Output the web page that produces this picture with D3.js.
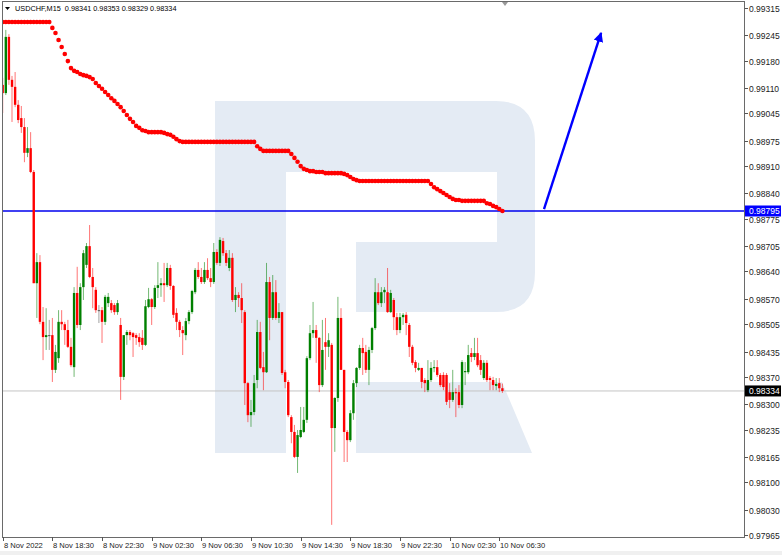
<!DOCTYPE html>
<html><head><meta charset="utf-8">
<script src="https://cdn.jsdelivr.net/npm/d3@7"></script>
<style>body{margin:0;background:#fff;overflow:hidden}svg{display:block}</style>
</head><body><svg id="c" width="782" height="555"></svg>
<script>
const symbol = "USDCHF,M15";
const lastOHLC = [0.98341, 0.98353, 0.98329, 0.98334];
const timeLabels = ["8 Nov 2022","8 Nov 18:30","8 Nov 22:30","9 Nov 02:30","9 Nov 06:30","9 Nov 10:30","9 Nov 14:30","9 Nov 18:30","9 Nov 22:30","10 Nov 02:30","10 Nov 06:30"];
const timeLabelBars = [0,16,32,48,64,80,96,112,128,144,160];
const priceTicks = [0.99315,0.99245,0.99180,0.99110,0.99045,0.98975,0.98910,0.98840,0.98775,0.98705,0.98640,0.98570,0.98505,0.98435,0.98370,0.98300,0.98235,0.98165,0.98100,0.98030,0.97965];

const open = [
0.99118,0.99097,0.99241,0.99131,0.99113,0.99067,0.99033,0.99010,0.98944,0.98956,
0.98895,0.98610,0.98664,0.98511,0.98472,0.98477,0.98477,0.98388,0.98418,0.98511,
0.98505,0.98490,0.98447,0.98395,0.98585,0.98503,0.98600,0.98657,0.98705,0.98626,
0.98593,0.98541,0.98541,0.98511,0.98559,0.98559,0.98554,0.98536,0.98503,0.98370,
0.98477,0.98485,0.98482,0.98477,0.98472,0.98470,0.98452,0.98549,0.98569,0.98549,
0.98598,0.98605,0.98610,0.98605,0.98649,0.98603,0.98534,0.98511,0.98490,0.98477,
0.98513,0.98536,0.98587,0.98644,0.98626,0.98613,0.98644,0.98623,0.98613,0.98690,
0.98662,0.98718,0.98687,0.98649,0.98675,0.98567,0.98580,0.98572,0.98536,0.98354,
0.98272,0.98280,0.98362,0.98485,0.98395,0.98382,0.98613,0.98521,0.98587,0.98521,
0.98536,0.98382,0.98357,0.98267,0.98229,0.98165,0.98216,0.98229,0.98260,0.98418,
0.98482,0.98490,0.98470,0.98349,0.98459,0.98447,0.98452,0.98239,0.98316,0.98521,
0.98388,0.98229,0.98208,0.98277,0.98354,0.98393,0.98444,0.98434,0.98388,0.98439,
0.98495,0.98587,0.98559,0.98587,0.98587,0.98536,0.98567,0.98523,0.98490,0.98523,
0.98529,0.98503,0.98447,0.98408,0.98388,0.98393,0.98362,0.98336,0.98362,0.98393,
0.98395,0.98375,0.98375,0.98375,0.98331,0.98311,0.98331,0.98331,0.98298,0.98382,
0.98382,0.98431,0.98421,0.98431,0.98413,0.98367,0.98406,0.98367,0.98362,0.98347,
0.98354,0.98341];
const high = [
0.99136,0.99259,0.99248,0.99141,0.99151,0.99079,0.99064,0.99033,0.99010,0.98997,
0.98900,0.98687,0.98682,0.98549,0.98546,0.98516,0.98521,0.98452,0.98541,0.98541,
0.98511,0.98516,0.98470,0.98600,0.98652,0.98610,0.98695,0.98713,0.98759,0.98649,
0.98600,0.98554,0.98549,0.98580,0.98585,0.98567,0.98559,0.98567,0.98521,0.98477,
0.98490,0.98490,0.98485,0.98482,0.98482,0.98490,0.98567,0.98598,0.98572,0.98605,
0.98664,0.98623,0.98662,0.98662,0.98657,0.98605,0.98546,0.98516,0.98500,0.98521,
0.98541,0.98593,0.98649,0.98664,0.98649,0.98664,0.98674,0.98649,0.98713,0.98697,
0.98728,0.98726,0.98695,0.98695,0.98687,0.98600,0.98587,0.98610,0.98541,0.98357,
0.98311,0.98375,0.98516,0.98511,0.98434,0.98662,0.98626,0.98631,0.98618,0.98559,
0.98536,0.98388,0.98362,0.98272,0.98247,0.98234,0.98293,0.98293,0.98423,0.98503,
0.98562,0.98503,0.98472,0.98516,0.98521,0.98482,0.98457,0.98318,0.98575,0.98546,
0.98388,0.98234,0.98285,0.98362,0.98395,0.98452,0.98470,0.98452,0.98447,0.98498,
0.98623,0.98610,0.98600,0.98600,0.98649,0.98593,0.98572,0.98534,0.98534,0.98534,
0.98536,0.98508,0.98452,0.98413,0.98406,0.98393,0.98367,0.98413,0.98408,0.98413,
0.98413,0.98380,0.98382,0.98380,0.98354,0.98388,0.98341,0.98349,0.98413,0.98408,
0.98452,0.98444,0.98470,0.98470,0.98426,0.98413,0.98413,0.98372,0.98370,0.98367,
0.98367,0.98353];
const low = [
0.99046,0.99092,0.99118,0.99023,0.99061,0.99020,0.98995,0.98920,0.98933,0.98892,
0.98610,0.98521,0.98505,0.98413,0.98439,0.98439,0.98357,0.98380,0.98406,0.98490,
0.98452,0.98444,0.98395,0.98370,0.98495,0.98490,0.98567,0.98649,0.98623,0.98546,
0.98534,0.98508,0.98457,0.98503,0.98549,0.98534,0.98529,0.98529,0.98311,0.98362,
0.98452,0.98464,0.98421,0.98452,0.98447,0.98439,0.98449,0.98546,0.98503,0.98544,
0.98572,0.98575,0.98562,0.98600,0.98593,0.98521,0.98490,0.98472,0.98426,0.98464,
0.98505,0.98531,0.98582,0.98621,0.98608,0.98608,0.98618,0.98600,0.98608,0.98657,
0.98654,0.98680,0.98654,0.98641,0.98562,0.98536,0.98549,0.98508,0.98298,0.98254,
0.98242,0.98272,0.98341,0.98390,0.98336,0.98380,0.98464,0.98516,0.98516,0.98508,
0.98375,0.98341,0.98267,0.98200,0.98162,0.98124,0.98213,0.98226,0.98252,0.98413,
0.98470,0.98406,0.98331,0.98344,0.98388,0.98421,0.97991,0.98178,0.98306,0.98388,
0.98152,0.98152,0.98203,0.98260,0.98344,0.98388,0.98375,0.98380,0.98349,0.98431,
0.98490,0.98554,0.98549,0.98559,0.98534,0.98534,0.98490,0.98477,0.98482,0.98503,
0.98477,0.98421,0.98400,0.98382,0.98385,0.98341,0.98331,0.98331,0.98357,0.98382,
0.98370,0.98344,0.98336,0.98298,0.98290,0.98306,0.98267,0.98290,0.98290,0.98349,
0.98377,0.98408,0.98413,0.98395,0.98375,0.98362,0.98357,0.98336,0.98336,0.98336,
0.98331,0.98329];
const close = [
0.99097,0.99241,0.99131,0.99113,0.99067,0.99028,0.99010,0.98944,0.98956,0.98895,
0.98610,0.98664,0.98511,0.98472,0.98477,0.98477,0.98388,0.98434,0.98511,0.98505,
0.98490,0.98447,0.98400,0.98585,0.98503,0.98600,0.98687,0.98705,0.98626,0.98600,
0.98541,0.98541,0.98511,0.98575,0.98575,0.98541,0.98536,0.98559,0.98370,0.98477,
0.98485,0.98477,0.98472,0.98470,0.98459,0.98452,0.98551,0.98569,0.98549,0.98598,
0.98605,0.98610,0.98605,0.98649,0.98603,0.98529,0.98511,0.98490,0.98482,0.98513,
0.98536,0.98590,0.98644,0.98626,0.98613,0.98644,0.98623,0.98613,0.98690,0.98662,
0.98721,0.98687,0.98662,0.98675,0.98567,0.98580,0.98572,0.98541,0.98354,0.98272,
0.98280,0.98354,0.98485,0.98393,0.98382,0.98613,0.98521,0.98587,0.98521,0.98536,
0.98380,0.98357,0.98272,0.98229,0.98165,0.98221,0.98234,0.98260,0.98418,0.98482,
0.98490,0.98470,0.98349,0.98439,0.98447,0.98464,0.98239,0.98316,0.98521,0.98388,
0.98229,0.98208,0.98277,0.98354,0.98393,0.98444,0.98431,0.98388,0.98439,0.98495,
0.98587,0.98559,0.98587,0.98593,0.98536,0.98585,0.98523,0.98490,0.98523,0.98529,
0.98508,0.98447,0.98406,0.98393,0.98393,0.98357,0.98354,0.98362,0.98393,0.98395,
0.98375,0.98349,0.98344,0.98306,0.98311,0.98331,0.98328,0.98298,0.98408,0.98385,
0.98426,0.98421,0.98431,0.98400,0.98388,0.98406,0.98362,0.98362,0.98349,0.98352,
0.98341,0.98334];
const trail = [
0.99279,0.99279,0.99279,0.99279,0.99279,0.99279,0.99279,0.99279,0.99279,0.99279,
0.99279,0.99279,0.99279,0.99279,0.99279,0.99279,0.99264,0.99251,0.99233,0.99215,
0.99197,0.99179,0.99161,0.99154,0.99151,0.99146,0.99143,0.99141,0.99138,0.99133,
0.99123,0.99115,0.99108,0.99100,0.99092,0.99084,0.99077,0.99069,0.99061,0.99051,
0.99041,0.99031,0.99023,0.99013,0.99008,0.99002,0.99000,0.98997,0.98997,0.98997,
0.98997,0.98997,0.98995,0.98992,0.98990,0.98985,0.98979,0.98974,0.98972,0.98972,
0.98972,0.98972,0.98972,0.98972,0.98972,0.98972,0.98972,0.98972,0.98972,0.98972,
0.98972,0.98972,0.98972,0.98972,0.98972,0.98972,0.98972,0.98972,0.98972,0.98972,
0.98972,0.98972,0.98961,0.98954,0.98949,0.98949,0.98949,0.98949,0.98949,0.98949,
0.98949,0.98949,0.98949,0.98941,0.98931,0.98921,0.98910,0.98903,0.98900,0.98897,
0.98897,0.98895,0.98895,0.98895,0.98892,0.98892,0.98892,0.98892,0.98892,0.98892,
0.98890,0.98887,0.98882,0.98877,0.98874,0.98872,0.98872,0.98872,0.98872,0.98872,
0.98872,0.98872,0.98872,0.98872,0.98872,0.98872,0.98872,0.98872,0.98872,0.98872,
0.98872,0.98872,0.98872,0.98872,0.98872,0.98872,0.98872,0.98872,0.98864,0.98856,
0.98851,0.98846,0.98841,0.98836,0.98831,0.98826,0.98823,0.98823,0.98821,0.98821,
0.98821,0.98821,0.98821,0.98821,0.98821,0.98821,0.98815,0.98813,0.98808,0.98805,
0.98800,0.98795];
const levelPrice = 0.98795;
const bidPrice = 0.98334;
const arrowFrom = [174.4, 0.98800];
const arrowTo = [192.8, 0.99251];

const svg = d3.select("#c");
const FL = 3, FT = 2, FR = 744, FB = 537;
const x = d3.scaleLinear().domain([0, 161]).range([2.7, 502.4]);
const y = d3.scaleLinear().domain([priceTicks[priceTicks.length-1], priceTicks[0]]).range([535, 8]);
const FONT = "'Liberation Sans', Arial, sans-serif";

svg.append("rect").attr("width", 782).attr("height", 555).attr("fill", "#fff");
svg.append("rect").attr("x", 0).attr("y", 551).attr("width", 782).attr("height", 4).attr("fill", "#f0f0f0");

const defs = svg.append("defs");
defs.append("clipPath").attr("id", "plot").append("rect")
  .attr("x", FL).attr("y", FT).attr("width", FR - FL).attr("height", FB - FT);
defs.append("marker").attr("id", "ah").attr("viewBox", "0 0 10 10")
  .attr("refX", 9).attr("refY", 5).attr("markerWidth", 4.2).attr("markerHeight", 4)
  .attr("markerUnits", "strokeWidth").attr("orient", "auto")
  .append("path").attr("d", "M0,0 L10,5 L0,10 Z").attr("fill", "#0000ff");

const plot = svg.append("g").attr("clip-path", "url(#plot)");

// watermark logo (decoration)
const logo = plot.append("g").attr("fill", "#e4ebf4");
logo.append("path").attr("d",
  "M215,101 L496,101 Q535,101 535,141 L535,272 Q535,312 496,312 L356,312 L356,242 L497,242 L497,172 L286,172 L286,453 L215,453 Z");
logo.append("path").attr("d", "M356,382 L502,382 L532,453 L356,453 Z");

// bid line
plot.append("line").attr("x1", FL).attr("x2", FR)
  .attr("y1", y(bidPrice)).attr("y2", y(bidPrice))
  .attr("stroke", "#c4c4c4").attr("stroke-width", 1);

// level line
plot.append("line").attr("x1", FL).attr("x2", FR)
  .attr("y1", y(levelPrice)).attr("y2", y(levelPrice))
  .attr("stroke", "#0000ee").attr("stroke-width", 1.6);

// candles
const bars = d3.range(open.length).map(i => ({i, o: open[i], h: high[i], l: low[i], c: close[i]}));
const col = d => d.c > d.o ? "#008000" : (d.c < d.o ? "#ff0000" : "#555");
const cg = plot.append("g");
cg.selectAll("line.w").data(bars).join("line").attr("class", "w")
  .attr("x1", d => x(d.i)).attr("x2", d => x(d.i))
  .attr("y1", d => y(d.h)).attr("y2", d => y(d.l))
  .attr("stroke", col).attr("stroke-width", 1).attr("stroke-opacity", 0.55);
cg.selectAll("rect.b").data(bars).join("rect").attr("class", "b")
  .attr("x", d => x(d.i) - 1.2).attr("width", 2.4)
  .attr("y", d => Math.min(y(d.o), y(d.c)))
  .attr("height", d => Math.max(1, Math.abs(y(d.o) - y(d.c))))
  .attr("fill", col);

// trailing dots
plot.append("g").selectAll("circle").data(trail).join("circle")
  .attr("cx", (d, i) => x(i)).attr("cy", d => y(d)).attr("r", 2.3).attr("fill", "#ff0000");

// arrow
plot.append("line")
  .attr("x1", x(arrowFrom[0])).attr("y1", y(arrowFrom[1]))
  .attr("x2", x(arrowTo[0])).attr("y2", y(arrowTo[1]))
  .attr("stroke", "#0000ff").attr("stroke-width", 2.4).attr("marker-end", "url(#ah)");

// frame
svg.append("rect").attr("x", FL - 0.5).attr("y", FT - 0.5).attr("width", FR - FL + 1).attr("height", FB - FT + 1)
  .attr("fill", "none").attr("stroke", "#6a6a6a").attr("stroke-width", 1);
// shift marker
svg.append("path").attr("d", "M502,2 L508,2 L505,6 Z").attr("fill", "#999");

// price axis
const ya = svg.append("g");
priceTicks.forEach(p => {
  const yy = Math.round(y(p)) + 0.5;
  ya.append("line").attr("x1", FR + 0.5).attr("x2", FR + 4).attr("y1", yy).attr("y2", yy).attr("stroke", "#555");
  ya.append("text").attr("x", 749).attr("y", yy + 3).text(p.toFixed(5))
    .attr("font-family", FONT).attr("font-size", 8.5).attr("fill", "#222");
});
function priceTag(p, bg) {
  const yy = y(p);
  ya.append("rect").attr("x", 745).attr("y", yy - 5.5).attr("width", 36).attr("height", 11).attr("fill", bg);
  ya.append("text").attr("x", 749).attr("y", yy + 3).text(p.toFixed(5))
    .attr("font-family", FONT).attr("font-size", 8.5).attr("fill", "#fff");
}
priceTag(levelPrice, "#0000ff");
priceTag(bidPrice, "#000");

// time axis
const xa = svg.append("g");
timeLabels.forEach((t, k) => {
  const xx = Math.round(x(timeLabelBars[k])) + 0.5;
  xa.append("line").attr("x1", xx).attr("x2", xx).attr("y1", FB).attr("y2", FB + 4).attr("stroke", "#555");
  xa.append("text").attr("x", xx + 0.5).attr("y", 548).text(t)
    .attr("font-family", FONT).attr("font-size", 7.6).attr("fill", "#222");
});

// header
svg.append("path").attr("d", "M5,7 L10,7 L7.5,10 Z").attr("fill", "#000");
svg.append("text").attr("x", 15).attr("y", 11)
  .text(symbol + "  " + lastOHLC.map(v => v.toFixed(5)).join(" "))
  .attr("font-family", FONT).attr("font-size", 7.3).attr("fill", "#000")
  .attr("xml:space", "preserve").style("white-space", "pre");
</script></body></html>
